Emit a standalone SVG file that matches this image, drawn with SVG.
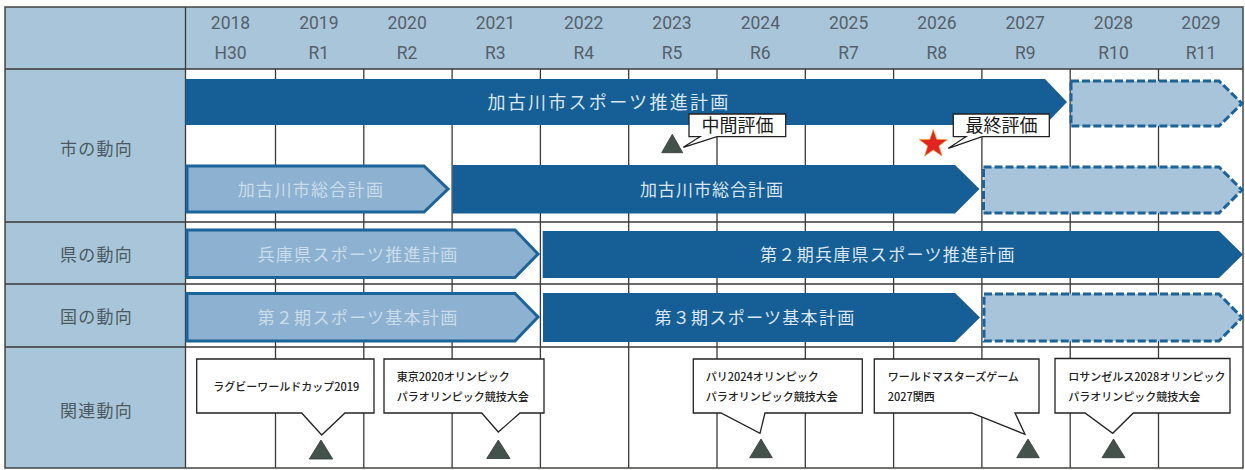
<svg xmlns="http://www.w3.org/2000/svg" width="1245" height="470" viewBox="0 0 1245 470">
<style>
.bg{fill:#a9c5d9}
.grid{stroke:#3a3a3a;stroke-width:1.3;fill:none}
.yr{font-family:Roboto,"Liberation Sans",sans-serif;font-size:17.5px;fill:#55616a;text-anchor:middle}
.lbl{font-family:"Noto Sans CJK JP",sans-serif;font-size:17px;fill:#4a5a60;text-anchor:middle;letter-spacing:1.3px}
.dark{fill:#165e96}
.light{fill:#8db2d1;stroke:#1b6399;stroke-width:3;stroke-linejoin:miter}
.dash{fill:#a7c4da;stroke:#1b6399;stroke-width:3;stroke-dasharray:8 3}
.bt{font-family:"Noto Sans CJK JP",sans-serif;font-size:17px;text-anchor:middle;letter-spacing:1.3px}
.bd{fill:#dbe6ef}
.bl{fill:#cadcea}
.co{fill:#fff;stroke:#222;stroke-width:1.3;stroke-linejoin:miter}
.ct{font-family:"Noto Sans CJK JP",sans-serif;font-size:18px;fill:#1a1a1a;text-anchor:middle;font-weight:400}
.st{font-family:"Noto Sans CJK JP",sans-serif;font-size:11px;fill:#222;font-weight:500}
.tri{fill:#44524c;stroke:#2e3833;stroke-width:0.8}
</style>
<rect x="0" y="0" width="1245" height="470" fill="#fdfdfb"/>
<g id="table">
<rect x="5" y="7" width="1238" height="461" fill="#fff"/>
<rect class="bg" x="5" y="7" width="180.5" height="461"/>
<rect class="bg" x="185.5" y="7" width="1057.5" height="62"/>
<g class="grid">
<path d="M275.5,69V468M363.8,69V468M452.1,69V468M540.4,69V468M628.7,69V468M717,69V468M805.3,69V468M893.6,69V468M981.9,69V468M1070.2,69V468M1158.5,69V468"/>
<path d="M5,69H1243M5,222H1243M5,284H1243M5,347H1243"/>
<path d="M185.5,7V468"/>
<rect x="5" y="7" width="1238" height="461" stroke="#444" stroke-width="1.5"/>
</g>
</g>
<g id="header">
<text class="yr" x="230.5" y="28.5">2018</text><text class="yr" x="230.5" y="58.5">H30</text>
<text class="yr" x="318.8" y="28.5">2019</text><text class="yr" x="318.8" y="58.5">R1</text>
<text class="yr" x="407.1" y="28.5">2020</text><text class="yr" x="407.1" y="58.5">R2</text>
<text class="yr" x="495.4" y="28.5">2021</text><text class="yr" x="495.4" y="58.5">R3</text>
<text class="yr" x="583.7" y="28.5">2022</text><text class="yr" x="583.7" y="58.5">R4</text>
<text class="yr" x="672" y="28.5">2023</text><text class="yr" x="672" y="58.5">R5</text>
<text class="yr" x="760.3" y="28.5">2024</text><text class="yr" x="760.3" y="58.5">R6</text>
<text class="yr" x="848.6" y="28.5">2025</text><text class="yr" x="848.6" y="58.5">R7</text>
<text class="yr" x="936.9" y="28.5">2026</text><text class="yr" x="936.9" y="58.5">R8</text>
<text class="yr" x="1025.2" y="28.5">2027</text><text class="yr" x="1025.2" y="58.5">R9</text>
<text class="yr" x="1113.5" y="28.5">2028</text><text class="yr" x="1113.5" y="58.5">R10</text>
<text class="yr" x="1201" y="28.5">2029</text><text class="yr" x="1201" y="58.5">R11</text>
</g>
<g id="row-labels">
<text class="lbl" x="96.5" y="154.5">市の動向</text>
<text class="lbl" x="96.5" y="261">県の動向</text>
<text class="lbl" x="96.5" y="323">国の動向</text>
<text class="lbl" x="96.5" y="416.5">関連動向</text>
</g>
<g id="bar-city-sports">
<path class="dark" d="M185.5,79H1045L1067,102L1045,125H185.5Z"/>
<text class="bt bd" x="609" y="109" style="font-size:18px;letter-spacing:2.3px">加古川市スポーツ推進計画</text>
</g>
<g id="bar-city-sports-next">
<path class="dash" d="M1071,81H1219L1242,103.5L1219,126H1071Z"/>
</g>
<g id="bar-city-general-1">
<path class="light" d="M187,166H424L448,189L424,212H187Z"/>
<text class="bt bl" x="311" y="195.5">加古川市総合計画</text>
</g>
<g id="bar-city-general-2">
<path class="dark" d="M452.5,165H955L979.5,189L955,213.5H452.5Z"/>
<text class="bt bd" x="712" y="195.5" style="letter-spacing:1px">加古川市総合計画</text>
</g>
<g id="bar-city-general-next">
<path class="dash" d="M983.5,167H1219L1242,190L1219,213H983.5Z"/>
</g>
<g id="bar-pref-1">
<path class="light" d="M187,230H515L538,254L515,277.5H187Z"/>
<text class="bt bl" x="358" y="260.5">兵庫県スポーツ推進計画</text>
</g>
<g id="bar-pref-2">
<path class="dark" d="M542.7,231H1219L1243,254.5L1219,278H542.7Z"/>
<text class="bt bd" x="888" y="261">第２期兵庫県スポーツ推進計画</text>
</g>
<g id="bar-nation-1">
<path class="light" d="M187,293.5H515L538,317L515,341H187Z"/>
<text class="bt bl" x="358" y="323.5">第２期スポーツ基本計画</text>
</g>
<g id="bar-nation-2">
<path class="dark" d="M543,293H955L980,317.5L955,342H543Z"/>
<text class="bt bd" x="755" y="324">第３期スポーツ基本計画</text>
</g>
<g id="bar-nation-next">
<path class="dash" d="M984,294H1219L1242,317.5L1219,341H984Z"/>
</g>
<g id="mid-eval">
<path class="tri" d="M672.3,134.3L682.7,152.7L661.7,152.7Z"/>
<path class="co" d="M689,114H785.7V136.7H717L683.3,147.3L700,136.7H689Z"/>
<text class="ct" x="737.5" y="132">中間評価</text>
</g>
<g id="final-eval">
<path d="M933.3,129.5L936.8,139.4L947.3,139.6L938.9,146L942,156L933.3,150L924.6,156L927.7,146L919.3,139.6L929.8,139.4Z" fill="#e2231f" stroke="#f2a03a" stroke-width="0.8"/>
<path class="co" d="M953.3,114H1049.3V136.7H982L948.3,148.3L966,136.7H953.3Z"/>
<text class="ct" x="1001.5" y="132">最終評価</text>
</g>
<g id="event-rugby">
<path class="tri" d="M321,440L332.7,459L309.3,459Z"/>
<path class="co" d="M196.7,359H374V413H345L321.7,435L301.7,413H196.7Z"/>
<text class="st" x="213.3" y="390.5">ラグビーワールドカップ2019</text>
</g>
<g id="event-tokyo">
<path class="tri" d="M498.3,440L510,458.5L486.7,458.5Z"/>
<path class="co" d="M384,359H544V413H520L498.3,432L481.7,413H384Z"/>
<text class="st" x="396.7" y="380.5">東京2020オリンピック</text>
<text class="st" x="396.7" y="400.5">パラオリンピック競技大会</text>
</g>
<g id="event-paris">
<path class="tri" d="M761,439L772.3,457.7L749.7,457.7Z"/>
<path class="co" d="M693.3,359H862.3V413H765L760,433.3L721,413H693.3Z"/>
<text class="st" x="705.7" y="380.5">パリ2024オリンピック</text>
<text class="st" x="705.7" y="400.5">パラオリンピック競技大会</text>
</g>
<g id="event-masters">
<path class="tri" d="M1028,439L1039.3,457.7L1016.7,457.7Z"/>
<path class="co" d="M874.3,359H1039V413H1015L1025,434.3L971.7,413H874.3Z"/>
<text class="st" x="887.7" y="380.5">ワールドマスターズゲーム</text>
<text class="st" x="887.7" y="400.5">2027関西</text>
</g>
<g id="event-la">
<path class="tri" d="M1113.5,439L1125,457.7L1102,457.7Z"/>
<path class="co" d="M1055,358.5H1230V413H1133.3L1112.7,433.3L1085,413H1055Z"/>
<text class="st" x="1068.3" y="380.5">ロサンゼルス2028オリンピック</text>
<text class="st" x="1068.3" y="401">パラオリンピック競技大会</text>
</g>
</svg>
